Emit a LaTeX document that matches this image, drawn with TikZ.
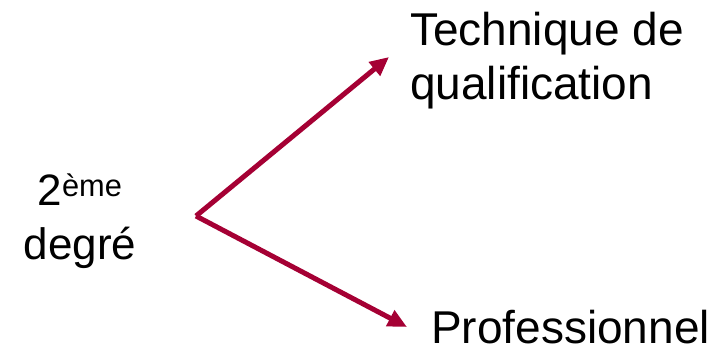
\documentclass[tikz,border=0pt]{standalone}
\usepackage{fontspec}
\setmainfont{Liberation Sans}
\usetikzlibrary{arrows.meta}
\definecolor{bordeaux}{RGB}{165,0,52}
\tikzset{
  lbl/.style={inner sep=0pt, font=\fontsize{46}{54.5}\selectfont},
  branch/.style={line width=5pt, draw=bordeaux, -{Triangle[length=19pt,width=17pt]}}
}
\begin{document}
\begin{tikzpicture}[x=1pt,y=-1pt]
\useasboundingbox (0,0) rectangle (726,349);

% level on the left
\node[lbl, align=center, anchor=north, font=\fontsize{44}{54}\selectfont] (degre) at (80,174) {2\textsuperscript{ème}\\degré};

% the two routes
\node[lbl, align=left, anchor=north west] (tq) at (410,11.5) {Technique de\\qualification};
\node[lbl, anchor=base west] (pro) at (431,343) {Professionnel};

% fork
\coordinate (fork) at (196,216);
\coordinate (tqend) at (389,57);
\coordinate (proend) at (407,327);
\draw[branch] (fork) -- (tqend);
\draw[branch] (fork) -- (proend);

\end{tikzpicture}
\end{document}
